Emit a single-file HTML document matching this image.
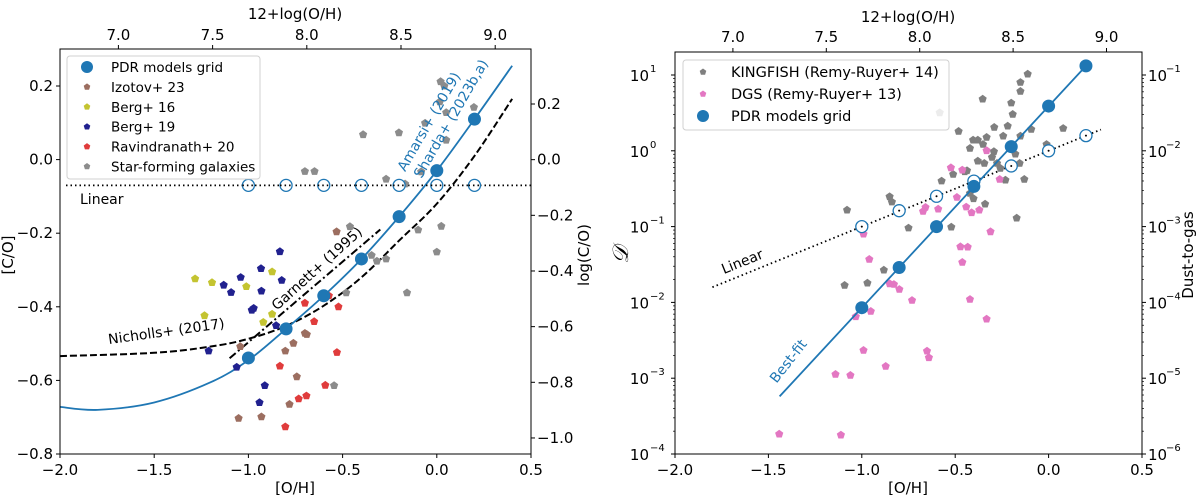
<!DOCTYPE html>
<html><head><meta charset="utf-8"><style>
body{margin:0;background:#fff}
svg{display:block;font-family:"DejaVu Sans","Liberation Sans",sans-serif}
text{fill:#000}
</style></head><body>
<svg id="fig" width="1200" height="501" viewBox="0 0 1200 501"></svg>
<script>
// ---------- LEFT PANEL DATA ----------
const gridX=[-1.0,-0.8,-0.6,-0.4,-0.2,0.0,0.2];
const gridCO=[-0.539,-0.46,-0.37,-0.27,-0.155,-0.03,0.11];
const linearCO=-0.07;
const curveX=[-2,-1.8,-1.5,-1.2,-1.0,-0.8,-0.6,-0.4,-0.2,0,0.2,0.4];
const curveCO=[-0.672,-0.68,-0.66,-0.605,-0.545,-0.46,-0.37,-0.27,-0.155,-0.03,0.11,0.255];
const nichX=[-2,-1.5,-1.2,-1.0,-0.8,-0.6,-0.4,-0.2,0,0.2,0.4];
const nichCO=[-0.534,-0.525,-0.508,-0.487,-0.452,-0.397,-0.32,-0.22,-0.12,0.01,0.165];
const garnX=[-1.1,-0.3];
const garnCO=[-0.54,-0.19];
const izotovX=[-0.532,-1.043,-0.804,-0.761,-0.70,-0.69,-0.743,-0.782,-0.931,-1.052];
const izotovY=[-0.196,-0.508,-0.52,-0.499,-0.472,-0.475,-0.59,-0.665,-0.699,-0.703];
const berg16X=[-1.283,-1.193,-1.011,-0.874,-1.233,-0.874,-0.921];
const berg16Y=[-0.324,-0.334,-0.345,-0.305,-0.424,-0.42,-0.442];
const berg19X=[-0.833,-0.933,-1.041,-1.131,-1.092,-0.931,-0.823,-0.972,-0.982,-0.853,-1.211,-1.062,-0.913,-0.941];
const berg19Y=[-0.25,-0.296,-0.32,-0.341,-0.361,-0.357,-0.328,-0.404,-0.409,-0.451,-0.52,-0.564,-0.614,-0.66];
const raviX=[-0.70,-0.522,-0.573,-0.651,-0.53,-0.833,-0.592,-0.692,-0.733,-0.804];
const raviY=[-0.39,-0.40,-0.37,-0.44,-0.524,-0.561,-0.613,-0.642,-0.65,-0.726];
const sfgX=[0.02,0.04,0.016,0.05,0.197,-0.062,0.05,-0.201,-0.391,-0.083,0.01,-0.70,-0.649,-0.269,-0.168,-0.461,-0.099,0.024,-0.346,-0.318,-0.269,0.0,-0.481,-0.158,-0.545];
const sfgY=[0.212,0.2,0.157,0.128,0.142,0.099,0.053,0.073,0.068,-0.033,-0.028,-0.032,-0.032,-0.053,-0.066,-0.182,-0.191,-0.181,-0.26,-0.276,-0.27,-0.251,-0.362,-0.362,-0.614];
const xTicks=[-2.0,-1.5,-1.0,-0.5,0.0,0.5];
const xTickLabels=["−2.0","−1.5","−1.0","−0.5","0.0","0.5"];
const topTicks=[7.0,7.5,8.0,8.5,9.0];
const topTickLabels=["7.0","7.5","8.0","8.5","9.0"];
const leftYTicks=[0.2,0.0,-0.2,-0.4,-0.6,-0.8];
const leftYLabels=["0.2","0.0","−0.2","−0.4","−0.6","−0.8"];
const logCOTicks=[0.2,0.0,-0.2,-0.4,-0.6,-0.8,-1.0];
const logCOLabels=["0.2","0.0","−0.2","−0.4","−0.6","−0.8","−1.0"];
// ---------- RIGHT PANEL DATA ----------
const gridLogD=[-2.07,-1.54,-1.0,-0.47,0.055,0.59,1.12];
const linearLogD=[-1.0,-0.79,-0.6,-0.40,-0.20,0.0,0.2];
const linLineX=[-1.8,0.28];
const linLineLogD=[-1.8,0.28];
const bestX=[-1.44,0.2];
const bestLogD=[-3.24,1.12];
const kingX=[-0.112,-0.151,-0.151,-0.353,-0.2,-0.192,-0.583,-0.291,-0.219,-0.093,0.078,-0.482,-0.243,-0.332,-0.404,-0.379,-0.351,-0.151,-0.421,-0.293,-0.303,-0.178,-0.011,-0.379,-0.344,-0.276,-0.258,-0.155,-0.449,-0.511,-0.437,-0.573,-0.231,-0.13,-0.421,-0.851,-0.839,-0.402,-0.34,-1.079,-0.75,-0.521,-0.171,-0.882,-1.092,-0.97];
const kingLogD=[1.013,0.903,0.785,0.683,0.631,0.481,0.503,0.31,0.327,0.283,0.296,0.257,0.195,0.178,0.142,0.142,0.085,0.195,0.033,-0.011,-0.086,-0.042,0.085,-0.135,-0.165,-0.165,-0.231,-0.165,-0.275,-0.31,-0.262,-0.398,-0.385,-0.376,-0.561,-0.605,-0.675,-0.631,-0.702,-0.781,-1.018,-1.005,-0.887,-1.573,-1.775,-1.744];
const dgsX=[-0.332,-0.523,-0.462,-0.262,-0.491,-0.441,-0.371,-0.412,-0.659,-0.672,-0.591,-0.991,-0.311,-0.472,-0.433,-0.96,-0.462,-0.851,-0.828,-0.799,-0.731,-0.421,-0.952,-1.032,-0.332,-0.991,-0.651,-0.641,-0.872,-1.141,-1.061,-1.442,-1.112];
const dgsLogD=[0.002,-0.223,-0.253,-0.376,-0.614,-0.741,-0.781,-0.816,-0.746,-0.799,-0.768,-1.098,-1.067,-1.265,-1.269,-1.432,-1.471,-1.753,-1.762,-1.828,-1.973,-1.96,-2.118,-2.188,-2.219,-2.632,-2.641,-2.729,-2.843,-2.949,-2.962,-3.736,-3.749];
const logDTicks=[1,0,-1,-2,-3,-4];
const logDLabelsExp=["1","0","−1","−2","−3","−4"];
const dtgLabelsExp=["−1","−2","−3","−4","−5","−6"];

const NS="http://www.w3.org/2000/svg";
const svg=document.getElementById('fig');
function el(tag,attrs,parent){const e=document.createElementNS(NS,tag);for(const k in attrs)e.setAttribute(k,attrs[k]);(parent||svg).appendChild(e);return e;}
function txt(s,x,y,attrs,parent){const t=el('text',Object.assign({x:x,y:y},attrs||{}),parent);t.textContent=s;return t;}
const BLUE="#1f77b4";
function pent(g,cx,cy,r,fill){let p=[];for(let i=0;i<5;i++){const a=-Math.PI/2+i*2*Math.PI/5;p.push((cx+r*Math.cos(a)).toFixed(1)+','+(cy+r*Math.sin(a)).toFixed(1));}return el('polygon',{points:p.join(' '),fill:fill},g);}

const L={x0:60,x1:531,top:49,bot:454};
const lx=v=>L.x0+(v+2)*(L.x1-L.x0)/2.5;
const ly=v=>86+(0.2-v)*368;
const lyLog=v=>104+(0.2-v)*278.3;
const R={x0:675,x1:1142,top:52,bot:454};
const rx=v=>R.x0+(v+2)*(R.x1-R.x0)/2.5;
const ry=v=>75+(1-v)*75.8;

function axesFrame(P,name){
  el('rect',{x:P.x0,y:P.top,width:P.x1-P.x0,height:P.bot-P.top,fill:'none',stroke:'#000','stroke-width':1});
}
function pathFrom(xs,ys,fx,fy){return xs.map((v,i)=>(i?'L':'M')+fx(v).toFixed(1)+','+fy(ys[i]).toFixed(1)).join(' ');}
function smoothPath(xs,ys,fx,fy){
  const P=xs.map((v,i)=>[fx(v),fy(ys[i])]);let d='M'+P[0][0]+','+P[0][1];
  for(let i=0;i<P.length-1;i++){const p0=P[Math.max(0,i-1)],p1=P[i],p2=P[i+1],p3=P[Math.min(P.length-1,i+2)];
    d+=' C'+(p1[0]+(p2[0]-p0[0])/6)+','+(p1[1]+(p2[1]-p0[1])/6)+' '+(p2[0]-(p3[0]-p1[0])/6)+','+(p2[1]-(p3[1]-p1[1])/6)+' '+p2[0]+','+p2[1];}
  return d;}

// ===== LEFT PANEL =====
const gL=el('g',{});


let p=el('path',{d:smoothPath(nichX,nichCO,lx,ly),fill:'none',stroke:'#000','stroke-width':2,'stroke-dasharray':'7,3'},gL);

p=el('path',{d:pathFrom(garnX,garnCO,lx,ly),fill:'none',stroke:'#000','stroke-width':2,'stroke-dasharray':'8,3,2,3'},gL);

p=el('path',{d:smoothPath(curveX,curveCO,lx,ly),fill:'none',stroke:BLUE,'stroke-width':1.8},gL);

p=el('line',{x1:lx(-2)+6,x2:L.x1,y1:ly(linearCO),y2:ly(linearCO),stroke:'#000','stroke-width':1.8,'stroke-dasharray':'1.5,3'},gL);

function scatter(xs,ys,fx,fy,col,name,g){xs.forEach((v,i)=>{const s=pent(g,fx(v),fy(ys[i]),4.3,col);});}
scatter(sfgX,sfgY,lx,ly,'#8c8c8c','star-forming-point',gL);
scatter(izotovX,izotovY,lx,ly,'#9c6e60','izotov-point',gL);
scatter(berg16X,berg16Y,lx,ly,'#c4c431','berg16-point',gL);
scatter(berg19X,berg19Y,lx,ly,'#21218f','berg19-point',gL);
scatter(raviX,raviY,lx,ly,'#e03c3c','ravindranath-point',gL);
gridX.forEach((v,i)=>{let c=el('circle',{cx:lx(v),cy:ly(linearCO),r:6,fill:'#fff',stroke:BLUE,'stroke-width':1.3},gL);

c=el('line',{x1:lx(v)-6,x2:lx(v)+6,y1:ly(linearCO),y2:ly(linearCO),stroke:'#000','stroke-width':1.8,'stroke-dasharray':'1.5,3'},gL);
c=el('circle',{cx:lx(v),cy:ly(gridCO[i]),r:6.5,fill:BLUE},gL);
});
axesFrame(L,'left-axes-frame');
xTicks.forEach((v,i)=>{el('line',{x1:lx(v),x2:lx(v),y1:L.bot,y2:L.bot+4,stroke:'#000'});const t=txt(xTickLabels[i],lx(v),L.bot+21,{'font-size':15,'text-anchor':'middle'});});
topTicks.forEach((v,i)=>{const x=lx(v-8.69);el('line',{x1:x,x2:x,y1:L.top,y2:L.top-4,stroke:'#000'});const t=txt(topTickLabels[i],x,L.top-9,{'font-size':15,'text-anchor':'middle'});});
leftYTicks.forEach((v,i)=>{el('line',{x1:L.x0,x2:L.x0-4,y1:ly(v),y2:ly(v),stroke:'#000'});const t=txt(leftYLabels[i],L.x0-7,ly(v)+5,{'font-size':15,'text-anchor':'end'});});
logCOTicks.forEach((v,i)=>{el('line',{x1:L.x1,x2:L.x1+4,y1:lyLog(v),y2:lyLog(v),stroke:'#000'});const t=txt(logCOLabels[i],L.x1+6,lyLog(v)+5,{'font-size':15});});
let t=txt('[O/H]',295,493,{'font-size':15,'text-anchor':'middle'});
t=txt('12+log(O/H)',295,19,{'font-size':15,'text-anchor':'middle'});
t=txt('[C/O]',13,255,{'font-size':15,'text-anchor':'middle',transform:'rotate(-90 13 255)'});
t=txt('log(C/O)',589,255,{'font-size':15,'text-anchor':'middle',transform:'rotate(-90 589 255)'});
t=txt('Linear',80,204,{'font-size':14});
t=txt('Nicholls+ (2017)',167,336,{'font-size':14,'text-anchor':'middle',transform:'rotate(-8 167 336)'});
t=txt('Garnett+ (1995)',320,272,{'font-size':14,'text-anchor':'middle',transform:'rotate(-42 320 272)'});
t=txt('Amarsi+ (2019)',433,124,{'font-size':14,'text-anchor':'middle',style:'fill:'+BLUE,transform:'rotate(-60 433 124)'});
t=txt('Sharda+ (2023b,a)',455,121,{'font-size':14,'text-anchor':'middle',style:'fill:'+BLUE,transform:'rotate(-60 455 121)'});
const lg=el('g',{});
el('rect',{x:67,y:56,width:193,height:123,rx:3,fill:'#fff','fill-opacity':0.85,stroke:'#d0d0d0'},lg);
const legL=[['PDR models grid',BLUE,'c'],['Izotov+ 23','#9c6e60','p'],['Berg+ 16','#c4c431','p'],['Berg+ 19','#21218f','p'],['Ravindranath+ 20','#e03c3c','p'],['Star-forming galaxies','#8c8c8c','p']];
legL.forEach((e,i)=>{const y=67+i*19.9;if(e[2]=='c')el('circle',{cx:87,cy:y,r:6,fill:e[1]},lg);else pent(lg,87,y,3.5,e[1]);const tt=txt(e[0],111,y+5,{'font-size':13.5},lg);});

// ===== RIGHT PANEL =====
const gR=el('g',{});
p=el('path',{d:pathFrom(linLineX,linLineLogD,rx,ry),fill:'none',stroke:'#000','stroke-width':1.8,'stroke-dasharray':'1.5,3'},gR);

scatter(kingX,kingLogD,rx,ry,'#7f7f7f','kingfish-point',gR);
scatter(dgsX,dgsLogD,rx,ry,'#e377c2','dgs-point',gR);
p=el('path',{d:pathFrom(bestX,bestLogD,rx,ry),fill:'none',stroke:BLUE,'stroke-width':1.8},gR);

gridX.forEach((v,i)=>{let c=el('circle',{cx:rx(v),cy:ry(linearLogD[i]),r:6,fill:'#fff',stroke:BLUE,'stroke-width':1.3},gR);

el('circle',{cx:rx(v),cy:ry(linearLogD[i]),r:1,fill:'#000'},gR);
c=el('circle',{cx:rx(v),cy:ry(gridLogD[i]),r:6.5,fill:BLUE},gR);
});
axesFrame(R,'right-axes-frame');
xTicks.forEach((v,i)=>{el('line',{x1:rx(v),x2:rx(v),y1:R.bot,y2:R.bot+4,stroke:'#000'});const t=txt(xTickLabels[i],rx(v),R.bot+21,{'font-size':15,'text-anchor':'middle'});});
topTicks.forEach((v,i)=>{const x=rx(v-8.69);el('line',{x1:x,x2:x,y1:R.top,y2:R.top-4,stroke:'#000'});const t=txt(topTickLabels[i],x,R.top-10,{'font-size':15,'text-anchor':'middle'});});
logDTicks.forEach((v,i)=>{const y=ry(v);el('line',{x1:R.x0,x2:R.x0-4,y1:y,y2:y,stroke:'#000'});el('line',{x1:R.x1,x2:R.x1+4,y1:y,y2:y,stroke:'#000'});
for(let k=2;k<10&&v>-4;k++){const yy=ry(v-1+Math.log10(k));el('line',{x1:R.x0,x2:R.x0-2,y1:yy,y2:yy,stroke:'#000','stroke-width':0.7});el('line',{x1:R.x1,x2:R.x1+2,y1:yy,y2:yy,stroke:'#000','stroke-width':0.7});}
let a=txt('10',R.x0-26,y+6,{'font-size':15,'text-anchor':'end'});
txt(logDLabelsExp[i],R.x0-25,y-3,{'font-size':10});
a=txt('10',R.x1+6,y+6,{'font-size':15});
txt(dtgLabelsExp[i],R.x1+24,y-3,{'font-size':10});});
t=txt('[O/H]',908,493,{'font-size':15,'text-anchor':'middle'});
t=txt('12+log(O/H)',908,22,{'font-size':15,'text-anchor':'middle'});
t=txt('𝒟',628,255,{'font-size':22,'font-style':'italic','text-anchor':'middle',transform:'rotate(-90 628 255)',style:'font-family:"DejaVu Serif",serif'});
t=txt('Dust-to-gas',1193,255,{'font-size':15,'text-anchor':'middle',transform:'rotate(-90 1193 255)'});
t=txt('Linear',744,266,{'font-size':14,'text-anchor':'middle',transform:'rotate(-22 744 266)'});
t=txt('Best-fit',792,364,{'font-size':14,'text-anchor':'middle',style:'fill:'+BLUE,transform:'rotate(-52 792 364)'});
const rg=el('g',{});
el('rect',{x:683,y:60,width:266,height:70,rx:3,fill:'#fff','fill-opacity':0.85,stroke:'#d0d0d0'},rg);
const legR=[['KINGFISH (Remy-Ruyer+ 14)','#7f7f7f','p'],['DGS (Remy-Ruyer+ 13)','#e377c2','p'],['PDR models grid',BLUE,'c']];
legR.forEach((e,i)=>{const y=72+i*22;if(e[2]=='c')el('circle',{cx:703,cy:y,r:6,fill:e[1]},rg);else pent(rg,703,y,3.5,e[1]);const tt=txt(e[0],731,y+5,{'font-size':14.5},rg);});
</script>
</body></html>
